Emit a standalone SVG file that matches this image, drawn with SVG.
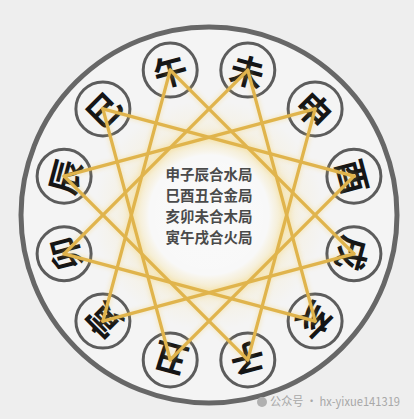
<svg xmlns="http://www.w3.org/2000/svg" width="414" height="419" viewBox="0 0 414 419">
<defs>
<radialGradient id="glow" cx="209" cy="215" r="115" gradientUnits="userSpaceOnUse">
<stop offset="0" stop-color="#ffffff" stop-opacity="0.5"/>
<stop offset="0.52" stop-color="#ffffff" stop-opacity="0.4"/>
<stop offset="0.66" stop-color="#f6d466" stop-opacity="0.3"/>
<stop offset="0.8" stop-color="#f8e3a0" stop-opacity="0.15"/>
<stop offset="1" stop-color="#f8e3a0" stop-opacity="0"/>
</radialGradient>
<filter id="blur" x="-20%" y="-20%" width="140%" height="140%"><feGaussianBlur stdDeviation="2"/></filter>
</defs>
<style>
.ring{fill:#f4f4f4;stroke:#676767;stroke-width:5}
.nc{fill:none;stroke:#5c5c5c;stroke-width:3}
.ch{font-family:"Noto Sans CJK SC","Noto Sans CJK JP",sans-serif;font-weight:700;font-size:34px;fill:#151515;text-anchor:middle;dominant-baseline:central}
.ln{stroke:#e0b44c;stroke-width:3.3;stroke-linecap:round}
.lg{stroke:#f5cc55;stroke-width:6;opacity:0.25}
.ct{font-family:"Noto Sans CJK SC","Noto Sans CJK JP",sans-serif;font-size:14.5px;fill:#4a4a4a;text-anchor:middle;font-weight:700}
.wm{font-family:"Noto Sans CJK SC","Liberation Sans",sans-serif;font-size:12px;fill:#a8a8a8}
</style>
<rect width="414" height="419" fill="#eeeeee"/>
<circle class="ring" cx="209" cy="215" r="188"/>
<circle cx="209" cy="215" r="115" fill="url(#glow)"/>

<g id="node-wu"><circle class="nc" cx="170.2" cy="70.1" r="27"/><text class="ch" x="170.2" y="70.1" transform="rotate(-15 170.2 70.1)">午</text></g>
<g id="node-wei"><circle class="nc" cx="247.8" cy="70.1" r="27"/><text class="ch" x="247.8" y="70.1" transform="rotate(15 247.8 70.1)">未</text></g>
<g id="node-shen"><circle class="nc" cx="315.1" cy="108.9" r="27"/><text class="ch" x="315.1" y="108.9" transform="rotate(45 315.1 108.9)">申</text></g>
<g id="node-you"><circle class="nc" cx="353.9" cy="176.2" r="27"/><text class="ch" x="353.9" y="176.2" transform="rotate(75 353.9 176.2)">酉</text></g>
<g id="node-xu"><circle class="nc" cx="353.9" cy="253.8" r="27"/><text class="ch" x="353.9" y="253.8" transform="rotate(105 353.9 253.8)">戌</text></g>
<g id="node-hai"><circle class="nc" cx="315.1" cy="321.1" r="27"/><text class="ch" x="315.1" y="321.1" transform="rotate(135 315.1 321.1)">亥</text></g>
<g id="node-zi"><circle class="nc" cx="247.8" cy="359.9" r="27"/><text class="ch" x="247.8" y="359.9" transform="rotate(165 247.8 359.9)">子</text></g>
<g id="node-chou"><circle class="nc" cx="170.2" cy="359.9" r="27"/><text class="ch" x="170.2" y="359.9" transform="rotate(-165 170.2 359.9)">丑</text></g>
<g id="node-yin"><circle class="nc" cx="102.9" cy="321.1" r="27"/><text class="ch" x="102.9" y="321.1" transform="rotate(-135 102.9 321.1)">寅</text></g>
<g id="node-mao"><circle class="nc" cx="64.1" cy="253.8" r="27"/><text class="ch" x="64.1" y="253.8" transform="rotate(-105 64.1 253.8)">卯</text></g>
<g id="node-chen"><circle class="nc" cx="64.1" cy="176.2" r="27"/><text class="ch" x="64.1" y="176.2" transform="rotate(-75 64.1 176.2)">辰</text></g>
<g id="node-si"><circle class="nc" cx="102.9" cy="108.9" r="27"/><text class="ch" x="102.9" y="108.9" transform="rotate(-45 102.9 108.9)">巳</text></g>

<g id="connectors">
<g class="lg" filter="url(#blur)">
<polygon fill="none" points="315.1,108.9 247.8,359.9 64.1,176.2"/>
<polygon fill="none" points="102.9,108.9 353.9,176.2 170.2,359.9"/>
<polygon fill="none" points="315.1,321.1 64.1,253.8 247.8,70.1"/>
<polygon fill="none" points="102.9,321.1 170.2,70.1 353.9,253.8"/>
</g>
<g class="ln">
<line x1="315.1" y1="108.9" x2="247.8" y2="359.9"/>
<line x1="247.8" y1="359.9" x2="64.1" y2="176.2"/>
<line x1="64.1" y1="176.2" x2="315.1" y2="108.9"/>
<line x1="102.9" y1="108.9" x2="353.9" y2="176.2"/>
<line x1="353.9" y1="176.2" x2="170.2" y2="359.9"/>
<line x1="170.2" y1="359.9" x2="102.9" y2="108.9"/>
<line x1="315.1" y1="321.1" x2="64.1" y2="253.8"/>
<line x1="64.1" y1="253.8" x2="247.8" y2="70.1"/>
<line x1="247.8" y1="70.1" x2="315.1" y2="321.1"/>
<line x1="102.9" y1="321.1" x2="170.2" y2="70.1"/>
<line x1="170.2" y1="70.1" x2="353.9" y2="253.8"/>
<line x1="353.9" y1="253.8" x2="102.9" y2="321.1"/>
</g>
</g>

<g id="center-text">
<text class="ct" x="209" y="180">申子辰合水局</text>
<text class="ct" x="209" y="201">巳酉丑合金局</text>
<text class="ct" x="209" y="222">亥卯未合木局</text>
<text class="ct" x="209" y="243">寅午戌合火局</text>
</g>

<g id="watermark">
<circle cx="262" cy="402" r="5" fill="#b0b0b0"/>
<text class="wm" x="270" y="406" textLength="130" lengthAdjust="spacingAndGlyphs">公众号 · hx-yixue141319</text>
</g>
</svg>
